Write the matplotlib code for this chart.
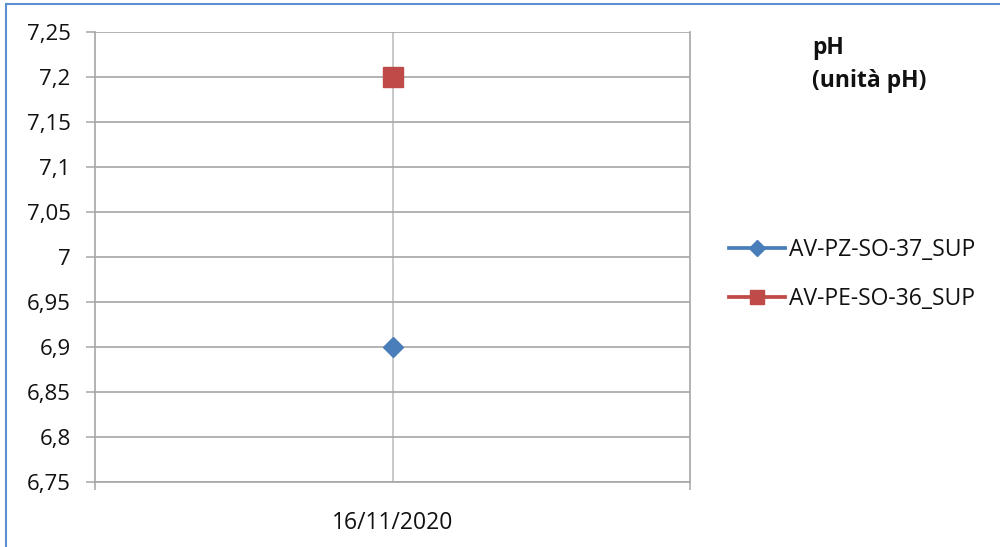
import matplotlib
matplotlib.use("Agg")
import matplotlib.pyplot as plt
from matplotlib.lines import Line2D
from matplotlib.ticker import MultipleLocator, FuncFormatter

plt.rcParams['font.family'] = ['Open Sans', 'DejaVu Sans']

# ---- data ----
categories = ["16/11/2020"]
series_names = ["AV-PZ-SO-37_SUP", "AV-PE-SO-36_SUP"]
pz_values = [6.9]
pe_values = [7.2]
title_lines = ["pH", "(unità pH)"]
y_min, y_max, y_step = 6.75, 7.25, 0.05

BLUE = '#4A7EBB'
RED = '#BE4B48'
GRID = '#A6A6A6'
TXT = '#111111'

W, H = 1008, 547
fig = plt.figure(figsize=(W / 100, H / 100), dpi=100)
ax = fig.add_axes([95 / W, 1 - 482 / H, (690 - 95) / W, (482 - 32) / H])

x = list(range(len(categories)))
ax.plot(x, pz_values, color=BLUE, lw=2.5, marker='D', ms=10.5,
        markeredgecolor=BLUE, linestyle='-', zorder=5)
ax.plot(x, pe_values, color=RED, lw=2.5, marker='s', ms=14.5,
        markeredgecolor=RED, linestyle='-', zorder=5)

ax.set_xlim(-0.5, len(categories) - 0.5)
ax.set_ylim(y_min, y_max)
ax.yaxis.set_major_locator(MultipleLocator(y_step))
ax.yaxis.set_major_formatter(FuncFormatter(lambda v, p: f"{round(v, 2):g}".replace('.', ',')))

ax.set_xticks(x)
ax.set_xticklabels(categories)
ax.set_xticks([i - 0.5 for i in range(len(categories) + 1)], minor=True)
ax.tick_params(axis='x', which='major', length=0, pad=21, labelsize=16.5, labelcolor=TXT)
ax.tick_params(axis='x', which='minor', length=6, width=1.1, color=GRID)
ax.tick_params(axis='y', which='major', length=6.5, width=1.1, color=GRID,
               pad=11, labelsize=16, labelcolor=TXT)

ax.grid(True, axis='y', color=GRID, lw=1.2)
ax.grid(True, axis='x', which='major', color='#BFBFBF', lw=1.2)
ax.set_axisbelow(True)
for side in ['left', 'right', 'bottom']:
    ax.spines[side].set_color(GRID)
    ax.spines[side].set_linewidth(1.2)
ax.spines['top'].set_visible(False)

# legend
handles = [
    Line2D([], [], color=BLUE, lw=2.7, marker='D', ms=8.5, markeredgecolor=BLUE),
    Line2D([], [], color=RED, lw=2.7, marker='s', ms=10.5, markeredgecolor=RED),
]
leg = fig.legend(handles, series_names, loc='center left',
                 bbox_to_anchor=(729 / W, 1 - 274.5 / H), frameon=False,
                 fontsize=16.5, handlelength=2.45, handletextpad=0.15,
                 labelspacing=1.1, borderpad=0, borderaxespad=0)
for t in leg.get_texts():
    t.set_color(TXT)

# title text
fig.text(812 / W, 1 - 54 / H, title_lines[0], fontsize=16.5, fontweight='bold',
         va='baseline', color=TXT)
fig.text(812 / W, 1 - 87 / H, title_lines[1], fontsize=16.5, fontweight='bold',
         va='baseline', color=TXT)

# chart border (left and top)
fig.add_artist(Line2D([5.5 / W, 5.5 / W], [0, 1 - 3.5 / H], color='#5B8FD0', lw=1.5))
fig.add_artist(Line2D([5.5 / W, 999 / W], [1 - 3.5 / H, 1 - 3.5 / H], color='#5B8FD0', lw=1.5))

fig.savefig("out.png", dpi=100)
